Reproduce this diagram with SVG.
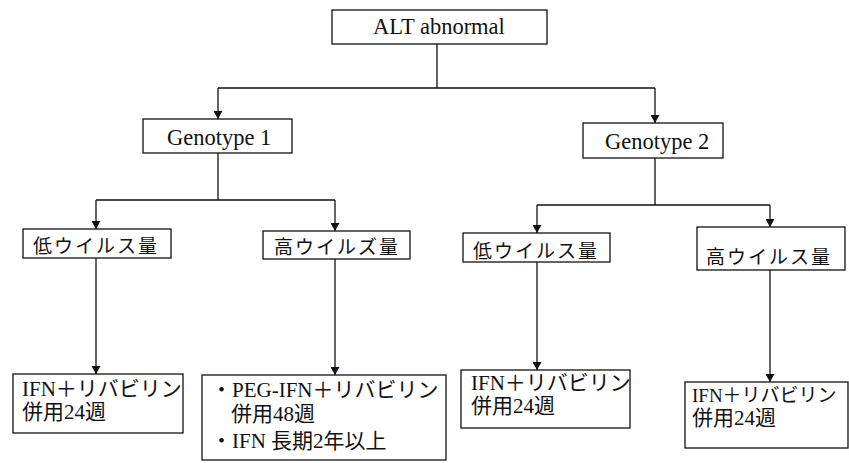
<svg xmlns="http://www.w3.org/2000/svg" width="849" height="463" viewBox="0 0 849 463">
<style>
.box{fill:#fff;stroke:#111;stroke-width:1.3}
.t{font-family:"Liberation Serif","Noto Sans CJK JP",serif;font-size:21px;fill:#111}
.l{font-size:22.5px}
.s{font-size:19px}
.j{font-family:"Liberation Serif","Noto Sans CJK JP",serif;font-size:19px;fill:#111;letter-spacing:2px}
.c{fill:none;stroke:#111;stroke-width:1.3}
.a{marker-end:url(#ah)}
</style>
<defs>
<marker id="ah" markerUnits="userSpaceOnUse" markerWidth="8" markerHeight="9" refX="8" refY="4.5" orient="auto" viewBox="0 0 8 9">
<path d="M0,0 L8,4.5 L0,9 z" fill="#111"/>
</marker>
</defs>
<g id="connectors">
<path class="c" d="M437,44 V88 M218,88 H655"/>
<path class="c a" d="M218,88 V119"/>
<path class="c a" d="M655,88 V123"/>
<path class="c" d="M218,153 V200 M96,200 H335"/>
<path class="c a" d="M96,200 V229"/>
<path class="c a" d="M335,200 V231"/>
<path class="c" d="M655,158 V205 M537,205 H770"/>
<path class="c a" d="M537,205 V233"/>
<path class="c a" d="M770,205 V227"/>
<path class="c a" d="M96,258 V374"/>
<path class="c a" d="M335,259 V375"/>
<path class="c a" d="M537,262 V370"/>
<path class="c a" d="M770,270 V382"/>
</g>
<g id="alt">
<rect class="box" x="332" y="10" width="215" height="34"/>
<text class="t l" x="373" y="34">ALT abnormal</text>
</g>
<g id="geno1">
<rect class="box" x="143" y="119" width="149" height="34"/>
<text class="t l" x="167" y="145">Genotype 1</text>
</g>
<g id="geno2">
<rect class="box" x="583" y="123" width="140" height="35"/>
<text class="t l" x="605" y="149">Genotype 2</text>
</g>
<g id="low1">
<rect class="box" x="23" y="229" width="148" height="29"/>
<text class="j" x="33" y="253">低ウイルス量</text>
</g>
<g id="high1">
<rect class="box" x="263" y="231" width="147" height="28"/>
<text class="j" x="274" y="254">高ウイルズ量</text>
</g>
<g id="low2">
<rect class="box" x="463" y="233" width="147" height="29"/>
<text class="j" x="473" y="258">低ウイルス量</text>
</g>
<g id="high2">
<rect class="box" x="697" y="227" width="148" height="43"/>
<text class="j" x="706" y="264">高ウイルス量</text>
</g>
<g id="res1">
<rect class="box" x="13" y="374" width="170" height="59"/>
<text class="t" x="22" y="396">IFN＋リバビリン</text>
<text class="t" x="22" y="419">併用24週</text>
</g>
<g id="res2">
<rect class="box" x="202" y="375" width="244" height="85"/>
<text class="t" x="211" y="397">・PEG-IFN＋リバビリン</text>
<text class="t" x="231" y="421">併用48週</text>
<text class="t" x="211" y="448">・IFN 長期2年以上</text>
</g>
<g id="res3">
<rect class="box" x="461" y="370" width="169" height="58"/>
<text class="t" x="471" y="390">IFN＋リバビリン</text>
<text class="t" x="471" y="413">併用24週</text>
</g>
<g id="res4">
<rect class="box" x="685" y="382" width="163" height="66"/>
<text class="t s" x="692" y="402">IFN＋リバビリン</text>
<text class="t" x="692" y="425">併用24週</text>
</g>
</svg>
